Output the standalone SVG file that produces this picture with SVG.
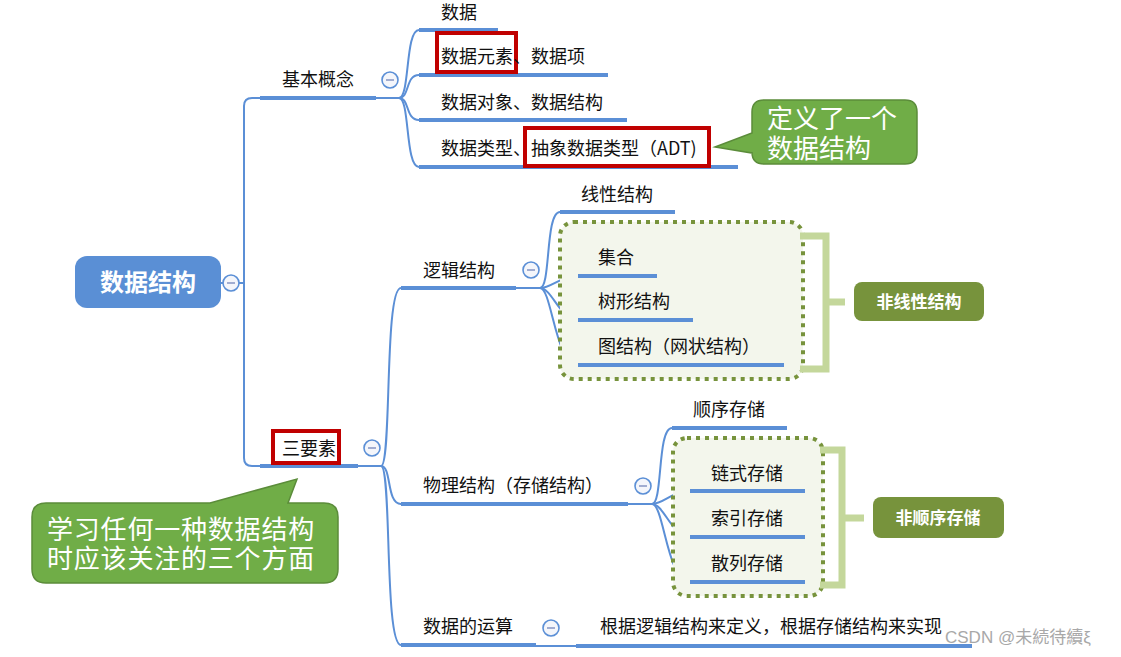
<svg xmlns="http://www.w3.org/2000/svg" width="1121" height="657" viewBox="0 0 1121 657">
<defs>
<style>
.t{font-family:"Noto Sans CJK SC","Liberation Sans",sans-serif;font-size:18px;fill:#111}
.tw{font-family:"Noto Sans CJK SC","Liberation Sans",sans-serif;fill:#fff}
.ul{stroke:#5B8FD6;stroke-width:4;fill:none}
.cn{stroke:#5B8FD6;stroke-width:2;fill:none}
.col circle{fill:#F4F6FB;stroke:#5B8FD6;stroke-width:1.6}
.col line{stroke:#8C9BC7;stroke-width:1.6}
.red{fill:none;stroke:#C00000;stroke-width:4}
.dbox{fill:#F3F6EC;stroke:#77933C;stroke-width:4;stroke-dasharray:4 5}
.brk{fill:none;stroke:#C4D79B;stroke-width:7}
.call{fill:#70AD47;stroke:#5B8C3A;stroke-width:1.5}
.olive{fill:#77933C}
</style>
</defs>
<rect width="1121" height="657" fill="#fff"/>

<g id="connectors">
<line class="cn" x1="221" y1="283" x2="244" y2="283"/>
<path class="cn" d="M260,98 H252 Q244,98 244,106 V458 Q244,466 252,466 H260"/>
<line class="cn" x1="376" y1="98" x2="399" y2="98"/>
<path class="cn" d="M399,98 C410,98 405,30 419,30"/>
<path class="cn" d="M399,98 C410,98 405,75 419,75"/>
<path class="cn" d="M399,98 C410,98 405,120 419,120"/>
<path class="cn" d="M399,98 C410,98 405,167 419,167"/>
<line class="cn" x1="358" y1="466" x2="381" y2="466"/>
<path class="cn" d="M381,466 C392,466 384,288 401,288"/>
<path class="cn" d="M381,466 C392,466 386,504 401,504"/>
<path class="cn" d="M381,466 C392,466 384,645 401,645"/>
<line class="cn" x1="516" y1="288" x2="540" y2="288"/>
<path class="cn" d="M540,288 C551,288 545,212 560,212"/>
<path class="cn" d="M540,288 C552,288 560,276 578,276"/>
<path class="cn" d="M540,288 C552,288 560,320 578,320"/>
<path class="cn" d="M540,288 C552,288 555,365 578,365"/>
<line class="cn" x1="628" y1="504" x2="652" y2="504"/>
<path class="cn" d="M652,504 C663,504 657,428 672,428"/>
<path class="cn" d="M652,504 C664,504 672,491 690,491"/>
<path class="cn" d="M652,504 C664,504 672,537 690,537"/>
<path class="cn" d="M652,504 C664,504 667,582 690,582"/>
<line class="cn" x1="536" y1="646" x2="576" y2="646"/>
</g>

<g id="root">
<rect x="75" y="256" width="146" height="52" rx="12" fill="#5A8FD5"/>
<text class="tw" x="148" y="291" font-size="24" font-weight="bold" text-anchor="middle">数据结构</text>
<g class="col"><circle cx="231" cy="283" r="8"/><line x1="227" y1="283" x2="235" y2="283"/></g>
</g>

<g id="n-jbgn">
<line class="ul" x1="260" y1="98" x2="376" y2="98"/>
<text class="t" x="282" y="86">基本概念</text>
<g class="col"><circle cx="390" cy="80" r="8"/><line x1="386" y1="80" x2="394" y2="80"/></g>
</g>
<g id="n-shuju">
<line class="ul" x1="419" y1="30" x2="498" y2="30"/>
<text class="t" x="441" y="19">数据</text>
</g>
<g id="n-yuansu">
<line class="ul" x1="419" y1="75" x2="608" y2="75"/>
<rect class="red" x="437" y="33" width="79" height="39"/>
<text class="t" x="441" y="63">数据元素、数据项</text>
</g>
<g id="n-duixiang">
<line class="ul" x1="419" y1="120" x2="627" y2="120"/>
<text class="t" x="441" y="109">数据对象、数据结构</text>
</g>
<g id="n-leixing">
<line class="ul" x1="419" y1="167" x2="738" y2="167"/>
<rect class="red" x="525" y="128" width="184" height="38"/>
<text class="t" x="441" y="155">数据类型、抽象数据类型（ADT)</text>
</g>
<g id="callout-adt">
<path class="call" d="M764,100 H905 Q917,100 917,112 V152 Q917,164 905,164 H764 Q752,164 752,152 V153 L715,147 L752,133 V112 Q752,100 764,100 Z"/>
<text class="tw" font-size="26"><tspan x="767" y="128">定义了一个</tspan><tspan x="767" y="158">数据结构</tspan></text>
</g>

<g id="n-sanyaosu">
<line class="ul" x1="260" y1="466" x2="358" y2="466"/>
<rect class="red" x="273" y="431" width="66" height="32" fill="#fff"/>
<text class="t" x="282" y="455">三要素</text>
<g class="col"><circle cx="372" cy="448" r="8"/><line x1="368" y1="448" x2="376" y2="448"/></g>
</g>
<g id="callout-three">
<path class="call" d="M46,503 H210 L297,479 L288,503 H324 Q338,503 338,517 V569 Q338,583 324,583 H46 Q32,583 32,569 V517 Q32,503 46,503 Z"/>
<text class="tw" font-size="26" letter-spacing="0.8"><tspan x="47" y="539">学习任何一种数据结构</tspan><tspan x="47" y="568">时应该关注的三个方面</tspan></text>
</g>

<g id="n-luoji">
<line class="ul" x1="401" y1="288" x2="516" y2="288"/>
<text class="t" x="423" y="277">逻辑结构</text>
<g class="col"><circle cx="531" cy="270" r="8"/><line x1="527" y1="270" x2="535" y2="270"/></g>
</g>
<g id="n-xianxing">
<line class="ul" x1="560" y1="212" x2="675" y2="212"/>
<text class="t" x="581" y="201">线性结构</text>
</g>
<g id="grp-nonlinear">
<rect class="dbox" x="560" y="222" width="243" height="157" rx="14"/>
<path class="brk" d="M800,236 H826 V369 H800 M826,302 H845"/>
</g>
<g id="n-jihe">
<line class="ul" x1="578" y1="276" x2="657" y2="276"/>
<text class="t" x="598" y="264">集合</text>
</g>
<g id="n-shuxing">
<line class="ul" x1="578" y1="320" x2="693" y2="320"/>
<text class="t" x="598" y="308">树形结构</text>
</g>
<g id="n-tu">
<line class="ul" x1="578" y1="365" x2="784" y2="365"/>
<text class="t" x="598" y="353">图结构（网状结构）</text>
</g>
<g id="n-feixianxing">
<rect class="olive" x="854" y="282" width="130" height="39" rx="8"/>
<text class="tw" x="919" y="308" font-size="17" font-weight="bold" text-anchor="middle">非线性结构</text>
</g>

<g id="n-wuli">
<line class="ul" x1="401" y1="504" x2="628" y2="504"/>
<text class="t" x="423" y="492">物理结构（存储结构）</text>
<g class="col"><circle cx="643" cy="486" r="8"/><line x1="639" y1="486" x2="647" y2="486"/></g>
</g>
<g id="n-shunxu">
<line class="ul" x1="672" y1="428" x2="787" y2="428"/>
<text class="t" x="693" y="416">顺序存储</text>
</g>
<g id="grp-nonseq">
<rect class="dbox" x="673" y="438" width="150" height="158" rx="14"/>
<path class="brk" d="M820,450 H842 V585 H820 M842,518 H864"/>
</g>
<g id="n-lianshi">
<line class="ul" x1="690" y1="491" x2="805" y2="491"/>
<text class="t" x="711" y="480">链式存储</text>
</g>
<g id="n-suoyin">
<line class="ul" x1="690" y1="537" x2="805" y2="537"/>
<text class="t" x="711" y="525">索引存储</text>
</g>
<g id="n-sanlie">
<line class="ul" x1="690" y1="582" x2="805" y2="582"/>
<text class="t" x="711" y="570">散列存储</text>
</g>
<g id="n-feishunxu">
<rect class="olive" x="873" y="497" width="131" height="41" rx="8"/>
<text class="tw" x="938" y="524" font-size="17" font-weight="bold" text-anchor="middle">非顺序存储</text>
</g>

<g id="n-yunsuan">
<line class="ul" x1="401" y1="645" x2="536" y2="645"/>
<text class="t" x="423" y="633">数据的运算</text>
<g class="col"><circle cx="551" cy="628" r="8"/><line x1="547" y1="628" x2="555" y2="628"/></g>
</g>
<g id="n-yunsuan-desc">
<line class="ul" x1="576" y1="646" x2="972" y2="646"/>
<text class="t" x="600" y="633">根据逻辑结构来定义，根据存储结构来实现</text>
</g>

<text x="945" y="643" font-family="'Liberation Sans','Noto Sans CJK SC',sans-serif" font-size="17" fill="#A8A8A8" stroke="#fff" stroke-width="0.5" paint-order="stroke">CSDN @未続待續ξ</text>
</svg>
